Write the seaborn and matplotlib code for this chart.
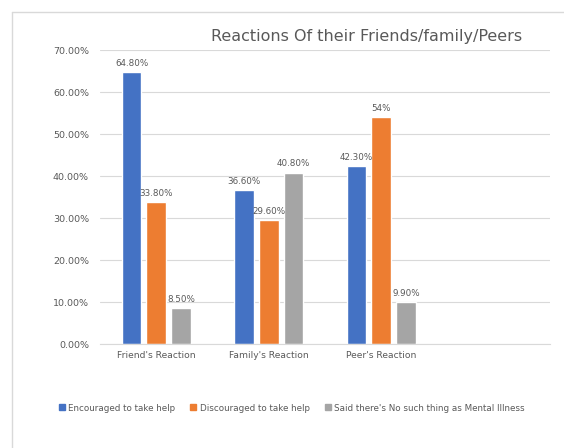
import matplotlib
matplotlib.use("Agg")
import matplotlib.pyplot as plt
import seaborn as sns
import pandas as pd
from matplotlib.lines import Line2D

categories = ["Friend's Reaction", "Family's Reaction", "Peer's Reaction"]
series_names = ["Encouraged to take help", "Discouraged to take help",
                "Said there's No such thing as Mental Illness"]
encouraged = [64.8, 36.6, 42.3]
discouraged = [33.8, 29.6, 54.0]
no_such_thing = [8.5, 40.8, 9.9]
label_encouraged = ["64.80%", "36.60%", "42.30%"]
label_discouraged = ["33.80%", "29.60%", "54%"]
label_no_such = ["8.50%", "40.80%", "9.90%"]
y_ticks = [0, 10, 20, 30, 40, 50, 60, 70]
y_tick_labels = ["0.00%", "10.00%", "20.00%", "30.00%", "40.00%", "50.00%", "60.00%", "70.00%"]
title = "Reactions Of their Friends/family/Peers"

colors = ["#4472C4", "#ED7D31", "#A5A5A5"]

rows = []
for name, vals in zip(series_names, [encouraged, discouraged, no_such_thing]):
    for c, v in zip(categories, vals):
        rows.append({"Category": c, "Series": name, "Value": v})
df = pd.DataFrame(rows)

sns.set_theme(style="white")
plt.rcParams['font.family'] = ['DejaVu Sans']

fig = plt.figure(figsize=(5.64, 4.48), dpi=100)
ax = fig.add_axes([100/564, 1-344/448, 450/564, 294/448])

sns.barplot(data=df, x="Category", y="Value", hue="Series", order=categories,
            hue_order=series_names, palette=colors, width=0.66, gap=0.2,
            ax=ax, legend=False, saturation=1)

for cont, labs in zip(ax.containers, [label_encouraged, label_discouraged, label_no_such]):
    ax.bar_label(cont, labels=labs, padding=3, fontsize=6.3, color="#595959")

ax.set_xlim(-0.5, 3.5)
ax.set_ylim(0, 70)
ax.set_yticks(y_ticks)
ax.set_yticklabels(y_tick_labels, fontsize=6.8, color="#595959")
ax.tick_params(axis='x', labelsize=6.6, colors="#595959", length=0, pad=5)
ax.tick_params(axis='y', length=0, pad=8)
ax.set_xlabel("")
ax.set_ylabel("")
ax.yaxis.grid(True, color="#D9D9D9", linewidth=0.8)
ax.set_axisbelow(True)
for s in ["top", "right", "left"]:
    ax.spines[s].set_visible(False)
ax.spines["bottom"].set_color("#D9D9D9")
ax.spines["bottom"].set_linewidth(0.8)

fig.text(367/564, 1-36/448, title, ha="center", va="center", fontsize=11.5, color="#595959")

handles = [Line2D([0], [0], marker="s", linestyle="", markersize=4,
                  markerfacecolor=c, markeredgecolor=c) for c in colors]
fig.legend(handles, series_names, loc="center", bbox_to_anchor=(291/564, 1-408/448),
           ncol=3, frameon=False, fontsize=6.3, labelcolor="#595959",
           handletextpad=0.2, columnspacing=1.6, handlelength=1.0)

# chart border (left and top)
fig.add_artist(Line2D([12/564, 12/564], [0, 1-12/448], transform=fig.transFigure,
                      color="#D9D9D9", linewidth=1))
fig.add_artist(Line2D([12/564, 1], [1-12/448, 1-12/448], transform=fig.transFigure,
                      color="#D9D9D9", linewidth=1))

fig.savefig("out.png", dpi=100)
